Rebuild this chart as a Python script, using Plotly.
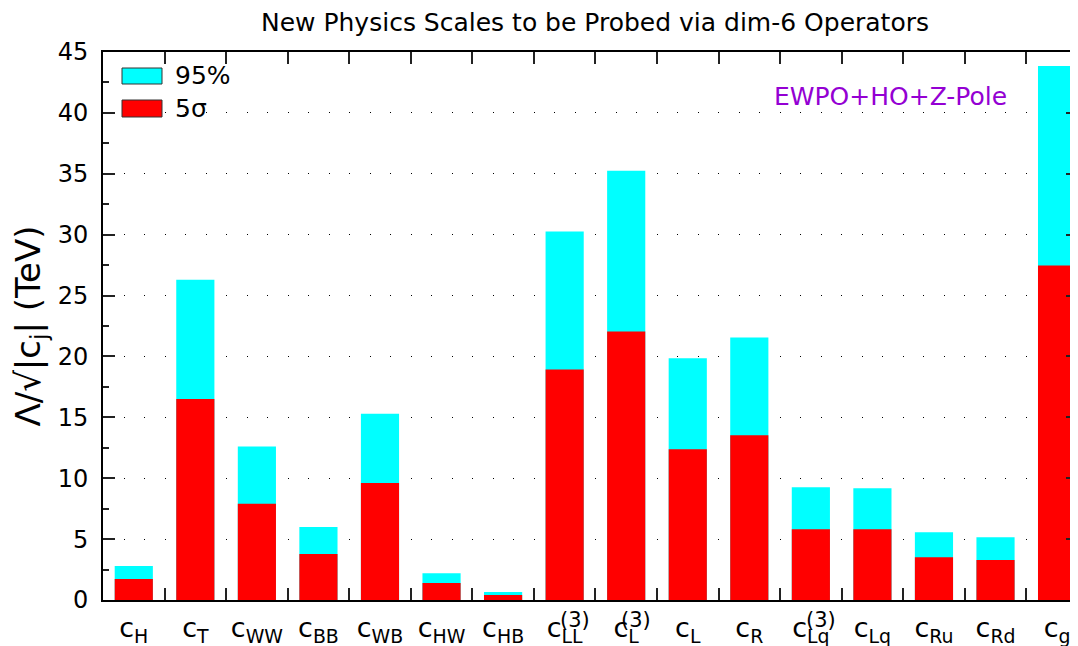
import plotly.graph_objects as go

categories = ["cH", "cT", "cWW", "cBB", "cWB", "cHW", "cHB", "cLL3",
              "cL3", "cL", "cR", "cLq3", "cLq", "cRu", "cRd", "cg"]
tick_labels = ["c<sub>H</sub>", "c<sub>T</sub>", "c<sub>WW</sub>", "c<sub>BB</sub>",
               "c<sub>WB</sub>", "c<sub>HW</sub>", "c<sub>HB</sub>", "c<sub>LL</sub>",
               "c<sub>L</sub>", "c<sub>L</sub>", "c<sub>R</sub>", "c<sub>Lq</sub>",
               "c<sub>Lq</sub>", "c<sub>Ru</sub>", "c<sub>Rd</sub>", "c<sub>g</sub>"]
superscript_cats = ["cLL3", "cL3", "cLq3"]
vals_95 = [2.8, 26.3, 12.6, 6.0, 15.3, 2.2, 0.66, 30.25,
           35.25, 19.85, 21.56, 9.26, 9.18, 5.57, 5.16, 43.85]
vals_5sigma = [1.72, 16.5, 7.9, 3.77, 9.6, 1.39, 0.41, 18.93,
               22.05, 12.38, 13.52, 5.82, 5.82, 3.52, 3.28, 27.46]

FONT = "DejaVu Sans"
OFF = 8  # page body margin offset
W, H = 1070, 638
L, R, T, B = 103 - OFF, 0, 52 - OFF, H - (600 - OFF)

fig = go.Figure()
fig.add_trace(go.Bar(x=categories, y=vals_95, name="95%", width=0.62,
                     marker=dict(color="#00FFFF", line=dict(width=0)), showlegend=False))
fig.add_trace(go.Bar(x=categories, y=vals_5sigma, name="5σ", width=0.62,
                     marker=dict(color="#FF0000", line=dict(width=0)), showlegend=False))

def px_x(p):
    return (p - OFF - L) / (W - L - R)

def px_y(p):
    return (H - B - (p - OFF)) / (H - T - B)

# legend drawn as boxes + text
legend_items = [("95%", "#00FFFF", 68, 84), ("5σ", "#FF0000", 100, 117)]
for name, col, y0, y1 in legend_items:
    fig.add_shape(type="rect", xref="paper", yref="paper",
                  x0=px_x(122), x1=px_x(162), y0=px_y(y1), y1=px_y(y0),
                  fillcolor=col, line=dict(color="#333333", width=1))
    fig.add_annotation(xref="paper", yref="paper", x=px_x(173), y=px_y((y0 + y1) / 2),
                       text=name, showarrow=False, xanchor="left", yanchor="middle",
                       font=dict(family=FONT, size=25, color="black"))

fig.add_annotation(xref="paper", yref="paper", x=px_x(890), y=px_y(96),
                   text="EWPO+HO+Z-Pole", showarrow=False, xanchor="center", yanchor="middle",
                   font=dict(family=FONT, size=25, color="#9400D3"))

for c in superscript_cats:
    fig.add_annotation(xref="x", yref="paper", x=c, y=px_y(620), xshift=10,
                       text="(3)", showarrow=False, xanchor="center", yanchor="middle",
                       font=dict(family=FONT, size=21, color="black"))

fig.update_layout(
    width=W, height=H,
    margin=dict(l=L, r=R, t=T, b=B),
    barmode="overlay",
    plot_bgcolor="white", paper_bgcolor="white",
    font=dict(family=FONT, color="black"),
    title=dict(text="New Physics Scales to be Probed via dim-6 Operators",
               xref="container", x=(595 - OFF) / W, y=1 - (22 - OFF) / H,
               yanchor="middle", xanchor="center",
               font=dict(family=FONT, size=25, color="black")),
)
fig.update_xaxes(
    type="category", categoryorder="array", categoryarray=categories,
    tickvals=categories, ticktext=tick_labels,
    range=[-0.5, 15.34], automargin=False,
    tickson="boundaries", ticks="inside", ticklen=12, tickwidth=2, tickcolor="#222",
    showline=True, linecolor="black", linewidth=2, mirror="ticks",
    showgrid=False, tickangle=0,
    tickfont=dict(family=FONT, size=27, color="black"),
    ticklabelstandoff=3,
)
fig.update_yaxes(
    range=[0, 45], dtick=5, tick0=0, automargin=False,
    ticks="inside", ticklen=12, tickwidth=2, tickcolor="#222",
    minor=dict(ticks="inside", ticklen=6, tickwidth=2, dtick=2.5, tickcolor="#222", showgrid=False),
    showline=True, linecolor="black", linewidth=2, mirror="ticks",
    showgrid=True, gridcolor="black", gridwidth=1, griddash="1px,19.5px",
    zeroline=False,
    tickfont=dict(family=FONT, size=24, color="black"),
    ticklabelstandoff=8,
    title=dict(text="Λ/√|c<sub>j</sub>| (TeV)", font=dict(family=FONT, size=34, color="black"),
               standoff=12),
)

fig.write_html("out.html")
